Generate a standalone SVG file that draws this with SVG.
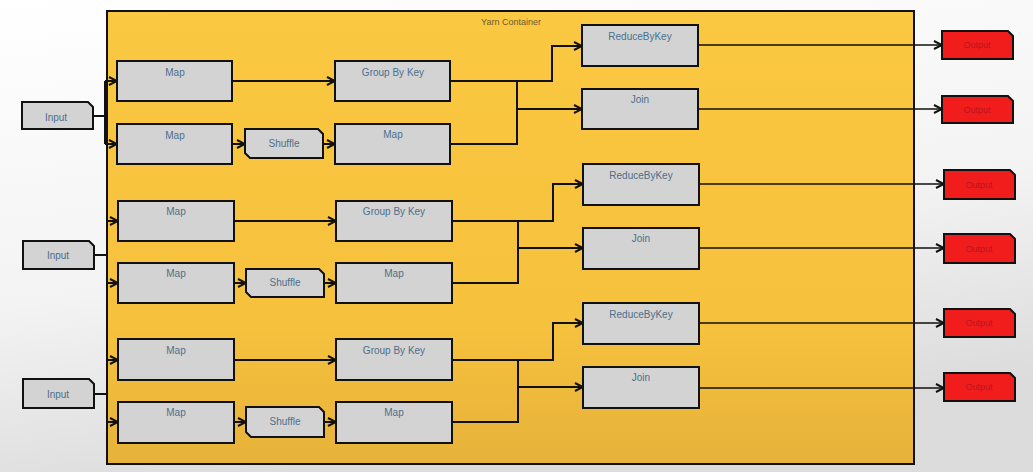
<svg xmlns="http://www.w3.org/2000/svg" width="1033" height="472" viewBox="0 0 1033 472">
<defs>
<linearGradient id="bg" x1="0" y1="0" x2="0.3" y2="1">
<stop offset="0" stop-color="#ffffff"/>
<stop offset="0.6" stop-color="#f3f3f3"/>
<stop offset="1" stop-color="#dcdcdc"/>
</linearGradient>
<linearGradient id="yel" x1="0" y1="0" x2="0" y2="1">
<stop offset="0" stop-color="#fbc841"/>
<stop offset="0.7" stop-color="#f6c13d"/>
<stop offset="1" stop-color="#e6b23a"/>
</linearGradient>
<marker id="arr" viewBox="0 0 10 10" refX="9" refY="5" markerWidth="10" markerHeight="10" markerUnits="userSpaceOnUse" orient="auto">
<path d="M1,1 L9,5 L1,9" fill="none" stroke="#111" stroke-width="2"/>
</marker>
<style>
.box{fill:#d3d3d3;stroke:#111;stroke-width:2}
.out{fill:#f11d1d;stroke:#111;stroke-width:2}
.lbl{font-family:"Liberation Sans",Arial,sans-serif;font-size:10px;fill:#4d6f8b;text-anchor:middle}
.olbl{font-family:"Liberation Sans",Arial,sans-serif;font-size:9px;fill:#b8151d;text-anchor:middle}
.c{fill:none;stroke:#111;stroke-width:2}
.ca{fill:none;stroke:#111;stroke-width:2;marker-end:url(#arr)}
.co{fill:none;stroke:#111;stroke-width:1.6;marker-end:url(#arr)}
</style>
</defs>
<rect x="0" y="0" width="1033" height="472" fill="url(#bg)"/>
<g id="container">
<rect x="107" y="11" width="807" height="453" fill="url(#yel)" stroke="#111" stroke-width="2"/>
<text x="511" y="25" font-family="Liberation Sans, Arial, sans-serif" font-size="9" fill="#6e5b2b" text-anchor="middle">Yarn Container</text>
</g>

<g id="connectors">
<!-- group 1 -->
<path class="c" d="M93,116 H105 M105,81 V144"/>
<path class="ca" d="M105,81 H117"/>
<path class="ca" d="M105,144 H117"/>
<path class="ca" d="M232,81 H335"/>
<path class="ca" d="M232,144 H245"/>
<path class="ca" d="M323,144 H335"/>
<path class="ca" d="M450,81 H552 V46 H582"/>
<path class="c" d="M450,144 H517 V81"/>
<path class="ca" d="M517,109 H582"/>
<path class="co" d="M698,45 H942"/>
<path class="co" d="M698,109 H942"/>
<!-- group 2 -->
<path class="c" d="M94,255 H107 M107,221 V283"/>
<path class="ca" d="M107,221 H118"/>
<path class="ca" d="M107,283 H118"/>
<path class="ca" d="M234,221 H336"/>
<path class="ca" d="M234,283 H246"/>
<path class="ca" d="M324,283 H336"/>
<path class="ca" d="M452,221 H553 V184 H583"/>
<path class="c" d="M452,283 H518 V221"/>
<path class="ca" d="M518,248 H583"/>
<path class="co" d="M699,184 H944"/>
<path class="co" d="M699,248 H944"/>
<!-- group 3 -->
<path class="c" d="M94,394 H107 M107,360 V422"/>
<path class="ca" d="M107,360 H118"/>
<path class="ca" d="M107,422 H118"/>
<path class="ca" d="M234,360 H336"/>
<path class="ca" d="M234,422 H246"/>
<path class="ca" d="M324,422 H336"/>
<path class="ca" d="M452,360 H553 V323 H583"/>
<path class="c" d="M452,422 H518 V360"/>
<path class="ca" d="M518,387 H583"/>
<path class="co" d="M699,323 H944"/>
<path class="co" d="M699,388 H944"/>
</g>

<!-- Group 1 nodes -->
<g id="input1"><path class="box" d="M22,102 H88 L93,107 V129 H22 Z"/><text class="lbl" x="56" y="121">Input</text></g>
<g id="map1a"><rect class="box" x="117" y="61" width="115" height="40"/><text class="lbl" x="175" y="76">Map</text></g>
<g id="map1b"><rect class="box" x="117" y="124" width="115" height="40"/><text class="lbl" x="175" y="139">Map</text></g>
<g id="shuffle1"><path class="box" d="M245,129 H318 L323,134 V158 H250 L245,153 Z"/><text class="lbl" x="284" y="147">Shuffle</text></g>
<g id="gbk1"><rect class="box" x="335" y="61" width="115" height="40"/><text class="lbl" x="393" y="76">Group By Key</text></g>
<g id="map1c"><rect class="box" x="335" y="124" width="115" height="40"/><text class="lbl" x="393" y="138">Map</text></g>
<g id="rbk1"><rect class="box" x="582" y="25" width="116" height="41"/><text class="lbl" x="640" y="40">ReduceByKey</text></g>
<g id="join1"><rect class="box" x="582" y="89" width="116" height="40"/><text class="lbl" x="640" y="103">Join</text></g>
<g id="out1"><path class="out" d="M942,31 H1008 L1013,36 V59 H942 Z"/><text class="olbl" x="977" y="48">Output</text></g>
<g id="out2"><path class="out" d="M942,96 H1008 L1013,101 V123 H942 Z"/><text class="olbl" x="977" y="113">Output</text></g>

<!-- Group 2 nodes -->
<g id="input2"><path class="box" d="M23,241 H89 L94,246 V269 H23 Z"/><text class="lbl" x="58" y="259">Input</text></g>
<g id="map2a"><rect class="box" x="118" y="201" width="116" height="40"/><text class="lbl" x="176" y="215">Map</text></g>
<g id="map2b"><rect class="box" x="118" y="263" width="116" height="40"/><text class="lbl" x="176" y="277">Map</text></g>
<g id="shuffle2"><path class="box" d="M246,269 H319 L324,274 V297 H251 L246,292 Z"/><text class="lbl" x="285" y="286">Shuffle</text></g>
<g id="gbk2"><rect class="box" x="336" y="201" width="116" height="40"/><text class="lbl" x="394" y="215">Group By Key</text></g>
<g id="map2c"><rect class="box" x="336" y="263" width="116" height="40"/><text class="lbl" x="394" y="277">Map</text></g>
<g id="rbk2"><rect class="box" x="583" y="164" width="116" height="41"/><text class="lbl" x="641" y="179">ReduceByKey</text></g>
<g id="join2"><rect class="box" x="583" y="228" width="116" height="41"/><text class="lbl" x="641" y="242">Join</text></g>
<g id="out3"><path class="out" d="M944,170 H1010 L1015,175 V199 H944 Z"/><text class="olbl" x="979" y="188">Output</text></g>
<g id="out4"><path class="out" d="M944,234 H1010 L1015,239 V263 H944 Z"/><text class="olbl" x="979" y="252">Output</text></g>

<!-- Group 3 nodes -->
<g id="input3"><path class="box" d="M23,379 H89 L94,384 V408 H23 Z"/><text class="lbl" x="58" y="398">Input</text></g>
<g id="map3a"><rect class="box" x="118" y="339" width="116" height="41"/><text class="lbl" x="176" y="354">Map</text></g>
<g id="map3b"><rect class="box" x="118" y="402" width="116" height="41"/><text class="lbl" x="176" y="416">Map</text></g>
<g id="shuffle3"><path class="box" d="M246,407 H319 L324,412 V437 H251 L246,432 Z"/><text class="lbl" x="285" y="425">Shuffle</text></g>
<g id="gbk3"><rect class="box" x="336" y="339" width="116" height="41"/><text class="lbl" x="394" y="354">Group By Key</text></g>
<g id="map3c"><rect class="box" x="336" y="402" width="116" height="41"/><text class="lbl" x="394" y="416">Map</text></g>
<g id="rbk3"><rect class="box" x="583" y="303" width="116" height="41"/><text class="lbl" x="641" y="318">ReduceByKey</text></g>
<g id="join3"><rect class="box" x="583" y="367" width="116" height="41"/><text class="lbl" x="641" y="381">Join</text></g>
<g id="out5"><path class="out" d="M944,309 H1010 L1015,314 V337 H944 Z"/><text class="olbl" x="979" y="326">Output</text></g>
<g id="out6"><path class="out" d="M944,373 H1010 L1015,378 V401 H944 Z"/><text class="olbl" x="979" y="390">Output</text></g>
</svg>
